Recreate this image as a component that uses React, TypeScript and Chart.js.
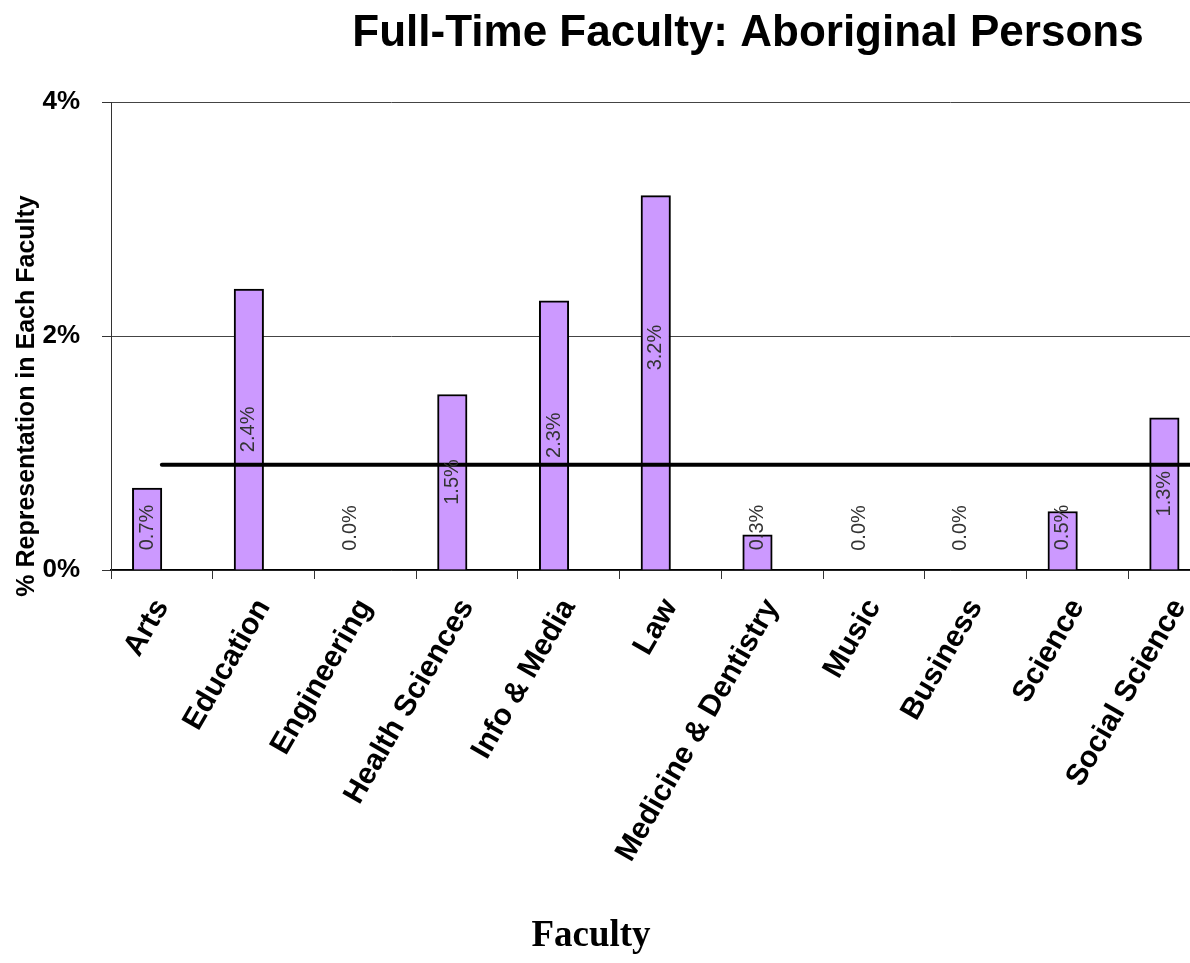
import React, { useEffect, useRef } from "react";
import { Chart, registerables } from "chart.js";

Chart.register(...registerables);

// ---------- data ----------
const categories = [
  "Arts",
  "Education",
  "Engineering",
  "Health Sciences",
  "Info & Media",
  "Law",
  "Medicine & Dentistry",
  "Music",
  "Business",
  "Science",
  "Social Science",
];
const representation = [0.7, 2.4, 0.0, 1.5, 2.3, 3.2, 0.3, 0.0, 0.0, 0.5, 1.3];
const companionSeries = [0, 0, 0, 0, 0, 0, 0, 0, 0, 0, 0];
const benchmarkValue = 0.9;
const benchmarkFrom = 0;
const benchmarkTo = 10.5;
const yTickValues = [0, 2, 4];
const titleText = "Full-Time Faculty: Aboriginal Persons";
const yAxisTitle = "% Representation in Each Faculty";
const xAxisTitle = "Faculty";

// style-only nudges for individual value labels (pixels)
const labelNudge: Record<string, number> = { Law: -35 };

const SANS = '"Liberation Sans", Arial, Helvetica, sans-serif';
const SERIF = '"Liberation Serif", "Times New Roman", serif';

const overlayPlugin = {
  id: "overlayText",
  afterDatasetsDraw(chart: any) {
    const ctx = chart.ctx;
    const meta = chart.getDatasetMeta(1);
    ctx.save();
    ctx.font = `20px ${SANS}`;
    ctx.fillStyle = "#333";
    ctx.textAlign = "center";
    ctx.textBaseline = "middle";
    meta.data.forEach((bar: any, i: number) => {
      const p = bar.getProps(["x", "y", "base"], true);
      const cy =
        Math.min((p.y + p.base) / 2, p.base - 42) + (labelNudge[categories[i]] || 0);
      ctx.save();
      ctx.translate(p.x, cy);
      ctx.rotate(-Math.PI / 2);
      ctx.fillText(representation[i].toFixed(1) + "%", 0, 0);
      ctx.restore();
    });
    ctx.restore();
  },
  afterDraw(chart: any) {
    const ctx = chart.ctx;
    ctx.save();
    ctx.fillStyle = "#000";
    ctx.textBaseline = "alphabetic";
    ctx.textAlign = "center";
    ctx.font = `bold 44px ${SANS}`;
    ctx.fillText(titleText, 748, 46);

    ctx.font = `bold 25px ${SANS}`;
    ctx.save();
    ctx.translate(34, 396);
    ctx.rotate(-Math.PI / 2);
    ctx.fillText(yAxisTitle, 0, 0);
    ctx.restore();

    ctx.font = `bold 37px ${SERIF}`;
    ctx.fillText(xAxisTitle, 591, 946);
    ctx.restore();
  },
};

export default function App() {
  const canvasRef = useRef<HTMLCanvasElement | null>(null);

  useEffect(() => {
    if (!canvasRef.current) return;
    Chart.defaults.font.family = SANS;
    const chart = new Chart(canvasRef.current, {
      type: "bar",
      data: {
        labels: categories,
        datasets: [
          {
            type: "line",
            label: "Benchmark",
            xAxisID: "x2",
            data: [
              { x: benchmarkFrom, y: benchmarkValue },
              { x: benchmarkTo, y: benchmarkValue },
            ],
            borderColor: "#000",
            borderWidth: 4,
            borderCapStyle: "round",
            pointRadius: 0,
            fill: false,
            order: 0,
          } as any,
          {
            type: "bar",
            label: "Representation",
            data: representation,
            backgroundColor: "#CC99FF",
            borderColor: "#000",
            borderWidth: 2,
            borderSkipped: "bottom",
            barThickness: 29.5,
            order: 1,
          },
          {
            type: "bar",
            label: "Companion",
            data: companionSeries,
            backgroundColor: "rgba(0,0,0,0)",
            borderWidth: 0,
            barThickness: 29.5,
            order: 2,
          },
        ],
      },
      options: {
        responsive: false,
        animation: false,
        devicePixelRatio: 1,
        layout: { padding: { top: 102, right: 10, bottom: 0, left: 0 } },
        plugins: {
          legend: { display: false },
          tooltip: { enabled: false },
          title: { display: false },
        },
        scales: {
          x: {
            type: "category",
            offset: true,
            grid: {
              offset: true,
              drawOnChartArea: false,
              drawTicks: true,
              tickLength: 9,
              color: "#333",
            },
            border: { display: true, color: "#000", width: 1.5 },
            ticks: {
              autoSkip: false,
              minRotation: 60,
              maxRotation: 60,
              padding: 14,
              color: "#000",
              font: { family: SANS, size: 30, weight: "bold" },
            },
            afterFit: (s: any) => {
              s.height = 393;
            },
          },
          x2: {
            type: "linear",
            display: false,
            offset: false,
            bounds: "data",
            grid: { offset: false },
            min: -0.5,
            max: 10.5,
          },
          y: {
            min: 0,
            max: 4,
            afterBuildTicks: (s: any) => {
              s.ticks = yTickValues.map((v) => ({ value: v }));
            },
            ticks: {
              callback: (v: any) => v + "%",
              padding: 22,
              color: "#000",
              font: { family: SANS, size: 26, weight: "bold" },
            },
            grid: { color: "#444", tickLength: 9, tickColor: "#333" },
            border: { display: true, color: "#333", width: 1 },
            afterFit: (s: any) => {
              s.width = 111;
            },
          },
        },
      } as any,
      plugins: [overlayPlugin],
    });
    return () => chart.destroy();
  }, []);

  return (
    <div
      style={{
        position: "fixed",
        left: 0,
        top: 0,
        width: 1190,
        height: 963,
        overflow: "hidden",
        background: "#fff",
      }}
    >
      <canvas
        ref={canvasRef}
        width={1240}
        height={963}
        style={{ display: "block", width: 1240, height: 963 }}
      />
    </div>
  );
}
